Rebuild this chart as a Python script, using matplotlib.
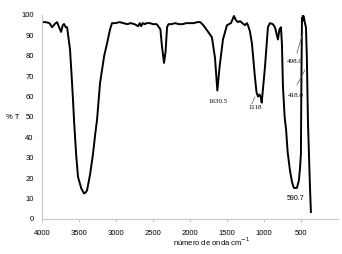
import matplotlib
matplotlib.use("Agg")
import matplotlib.pyplot as plt

wavenumber = [4000, 3950, 3900, 3865, 3830, 3797, 3770, 3743, 3720, 3703, 3680, 3662,
              3640, 3622, 3600, 3581, 3568, 3540, 3514, 3470, 3432, 3410, 3392, 3350,
              3311, 3280, 3257, 3216, 3160, 3122, 3080, 3054, 3010, 2950, 2900, 2850,
              2800, 2750, 2700, 2680, 2660, 2640, 2610, 2590, 2540, 2500, 2450, 2420,
              2400, 2380, 2351, 2330, 2310, 2290, 2250, 2200, 2150, 2100, 2050, 2000,
              1950, 1900, 1860, 1820, 1780, 1740, 1703, 1662, 1630, 1600, 1554, 1500,
              1446, 1405, 1380, 1351, 1324, 1257, 1230, 1216, 1190, 1162, 1122, 1100,
              1080, 1060, 1045, 1030, 1010, 986, 946, 919, 880, 851, 811, 790, 770,
              757, 743, 720, 700, 680, 649, 620, 595, 554, 527, 510, 500, 495, 486,
              480, 473, 460, 446, 432, 420, 405, 378, 365]
transmittance = [96.5, 96.5, 96, 94, 95.5, 96.5, 94, 91.7, 95, 95.6, 94, 94,
                 88, 83, 70, 58, 48.5, 32, 20.6, 15, 12.5, 13, 14, 22,
                 32, 42, 48.5, 66.7, 80, 86, 93, 96, 96, 96.5, 96, 95.5,
                 96, 95.5, 94.5, 96, 94.5, 96, 95.5, 96, 96, 95.5, 95.5, 94,
                 93, 85, 76.5, 82, 94, 95.5, 95.5, 96, 95.5, 95.5, 96, 96,
                 96, 96.5, 96.5, 95, 93, 91, 89, 79, 63, 74.5, 88, 95,
                 96, 99.5, 97.5, 96.5, 97, 95, 96, 95, 92, 86, 69.6, 62,
                 60, 61, 60, 57, 65, 74.5, 94, 96, 95.5, 94, 88, 93, 94,
                 86, 65, 50, 43.6, 33, 24, 18, 15.2, 15.2, 19, 26, 32, 60, 98.5,
                 97, 100, 99, 96, 94, 80, 48, 16, 3.4]

xticks = [4000, 3500, 3000, 2500, 2000, 1500, 1000, 500]
yticks = [0, 10, 20, 30, 40, 50, 60, 70, 80, 90, 100]

fig = plt.figure(figsize=(3.42, 2.54), dpi=100)
ax = fig.add_axes([0.123, 0.138, 0.865, 0.803])
ax.plot(wavenumber, transmittance, color="black", lw=1.4)
ax.set_xlim(4000, 0)
ax.set_ylim(0, 100)
ax.set_xticks(xticks)
ax.set_yticks(yticks)
ax.set_xticklabels([str(v) for v in xticks], fontsize=5.5, family="Liberation Sans")
ax.set_yticklabels([str(v) for v in yticks], fontsize=5.5, family="Liberation Sans")
for s in ["top", "right"]:
    ax.spines[s].set_visible(False)
for s in ["left", "bottom"]:
    ax.spines[s].set_color("#c8c8c8")
    ax.spines[s].set_linewidth(0.8)
ax.tick_params(axis="x", length=2, color="#c8c8c8", pad=6)
ax.tick_params(axis="y", length=0, pad=6)

serif = dict(fontsize=5, family="Liberation Serif", ha="center", va="center")
ax.text(1622, 57.4, "1630.5", **serif)
ax.text(1122, 54.4, "1118", **serif)
ax.plot([1162, 1122], [56.5, 59.8], color="#555555", lw=0.5)
ax.text(581, 77, "498.0", **serif)
ax.plot([554, 473], [81.4, 91.2], color="#555555", lw=0.5)
ax.text(568, 60.3, "418.0", **serif)
ax.plot([554, 446], [65.7, 73], color="#555555", lw=0.5)
ax.text(568, 9.8, "590.7", fontsize=5, family="Liberation Sans", ha="center", va="center")

fig.text(12.5 / 342, 1 - 117 / 254, "% T", fontsize=5.5, family="Liberation Sans", ha="center", va="center")
fig.text(212 / 342, 1 - 242 / 254, "número de onda cm$^{-1}$", fontsize=5.5,
         family="Liberation Sans", ha="center", va="center")

fig.savefig("out.png", dpi=100)
